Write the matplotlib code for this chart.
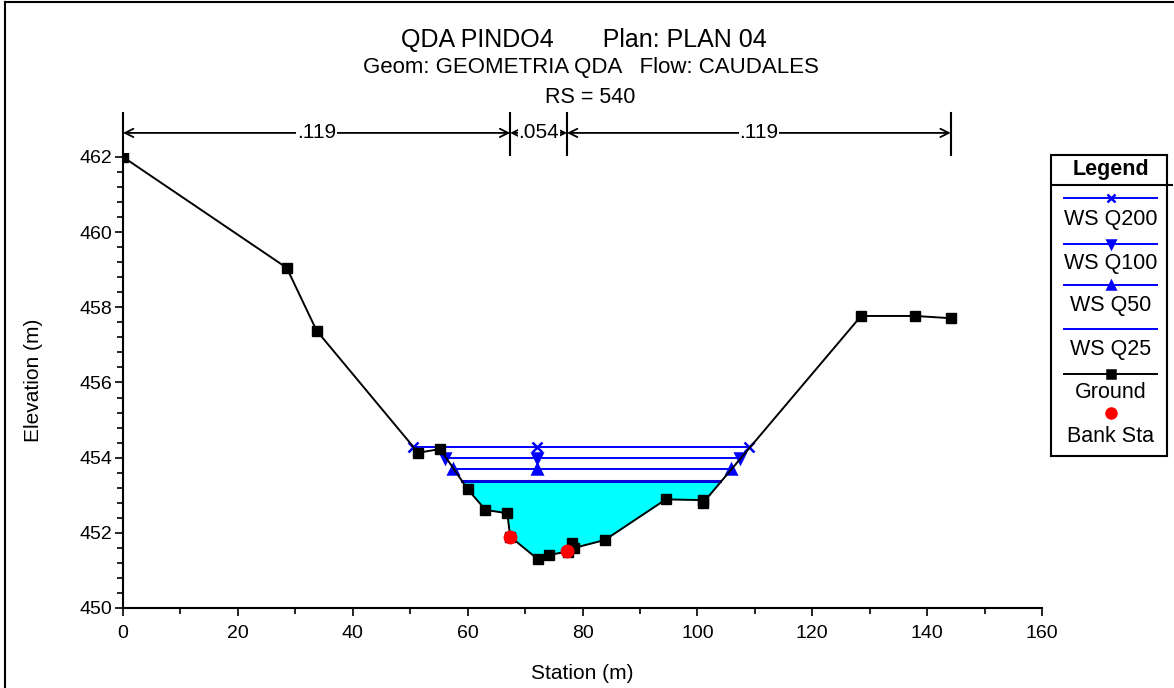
import matplotlib
matplotlib.use("Agg")
import matplotlib.pyplot as plt
from matplotlib.ticker import MultipleLocator
import numpy as np

plt.rcParams['font.family'] = ['Liberation Sans', 'DejaVu Sans']

# ground profile (station m, elevation m)
station = [0, 28.5, 33.7, 51.4, 55.2, 60.0, 63.1, 66.9, 67.4, 72.2, 74.1, 77.4,
           78.1, 78.6, 83.9, 94.5, 100.9, 101.0, 128.5, 137.9, 144.1]
ground = [462.0, 459.05, 457.38, 454.13, 454.23, 453.16, 452.61, 452.52, 451.90,
          451.30, 451.41, 451.50, 451.72, 451.60, 451.81, 452.89, 452.87, 452.80,
          457.77, 457.77, 457.71]

# bank stations
bank_sta = [67.4, 77.3]
bank_elev = [451.90, 451.52]

# water surfaces: name, elevation, left / mid / right station
ws_names = ['WS Q200', 'WS Q100', 'WS Q50', 'WS Q25']
ws_elev = [454.29, 453.98, 453.69, 453.38]
ws_left = [50.5, 56.1, 57.5, 59.1]
ws_right = [108.9, 107.4, 105.8, 104.0]
ws_mid = 72.0
ws_marker = ['x', 'v', '^', None]

# Manning n values between stations
n_edges = [0, 67.4, 77.3, 144.1]
n_vals = ['.119', '.054', '.119']

fig = plt.figure(figsize=(11.74, 6.88), dpi=100)
ax = fig.add_axes([0.1048, 0.1163, 0.7828, 0.661])

# fill below lowest water surface
st_arr = np.array(station)
gr_arr = np.array(ground)
ax.fill_between(st_arr, gr_arr, ws_elev[3], where=gr_arr <= ws_elev[3],
                interpolate=True, color='#00ffff', lw=0, zorder=1)

for i in range(len(ws_names)):
    xs = [ws_left[i], ws_mid, ws_right[i]]
    ys = [ws_elev[i]] * 3
    if ws_marker[i] is None:
        ax.plot([ws_left[i], ws_right[i]], ys[:2], color='#0000dd', lw=2.2, zorder=2)
    else:
        ax.plot(xs, ys, color='blue', lw=1.4, marker=ws_marker[i], ms=6.5,
                mew=1.8, zorder=3)

ax.plot(station, ground, color='black', lw=1.4, marker='s', ms=6.5, zorder=4)
ax.plot(bank_sta, bank_elev, 'o', color='red', ms=9, zorder=5, lw=0)

ax.set_xlim(0, 160)
ax.set_ylim(450, 462.1)
ax.xaxis.set_major_locator(MultipleLocator(20))
ax.xaxis.set_minor_locator(MultipleLocator(10))
ax.yaxis.set_major_locator(MultipleLocator(2))
ax.yaxis.set_minor_locator(MultipleLocator(0.4))
ax.tick_params(which='major', length=6, width=1.2, labelsize=14, direction='out')
ax.tick_params(axis='y', which='major', pad=2)
ax.tick_params(axis='x', which='major', pad=6)
ax.tick_params(which='minor', length=4, width=1.2, direction='out')
ax.spines['top'].set_visible(False)
ax.spines['right'].set_visible(False)
ax.spines['left'].set_linewidth(1.5)
ax.spines['bottom'].set_linewidth(1.5)
ax.set_xlabel('Station (m)', fontsize=15, labelpad=16)
ax.set_ylabel('Elevation (m)', fontsize=15, labelpad=26)

# n value dimension lines
y_arrow = 462.64
for x in n_edges:
    ax.plot([x, x], [462.05, 463.17], color='black', lw=1.5, clip_on=False)
for i in range(len(n_vals)):
    a, b = n_edges[i], n_edges[i + 1]
    ax.annotate('', xy=(a, y_arrow), xytext=(b, y_arrow),
                arrowprops=dict(arrowstyle='<->,head_length=0.6,head_width=0.3',
                                color='black', lw=1.3, shrinkA=0, shrinkB=0),
                annotation_clip=False)
    ax.text((a + b) / 2, y_arrow, n_vals[i], ha='center', va='center', fontsize=15,
            bbox=dict(facecolor='white', edgecolor='none', pad=0.5), clip_on=False)

# titles
fig.text(0.497, 0.942, 'QDA PINDO4       Plan: PLAN 04', ha='center', va='center', fontsize=18)
fig.text(0.503, 0.902, 'Geom: GEOMETRIA QDA   Flow: CAUDALES', ha='center', va='center', fontsize=16)
fig.text(0.503, 0.859, 'RS = 540', ha='center', va='center', fontsize=15.5)

# frame lines
fig.add_artist(plt.Line2D([5 / 1174, 5 / 1174], [0, 1 - 2 / 688], color='black', lw=1.5))
fig.add_artist(plt.Line2D([5 / 1174, 1], [1 - 2 / 688, 1 - 2 / 688], color='black', lw=1.5))

# legend box
lg = fig.add_axes([1051 / 1174, 1 - 456 / 688, 116 / 1174, 301 / 688])
lg.set_xlim(1051, 1167)
lg.set_ylim(456, 155)
lg.set_xticks([])
lg.set_yticks([])
for s in lg.spines.values():
    s.set_linewidth(1.5)
lg.text(1111, 170, 'Legend', ha='center', va='center', fontsize=15.5, fontweight='bold')
lg.plot([1051, 1172], [185, 185], color='black', lw=1.5, clip_on=False)

leg_line_y = [198, 244, 285, 329, 374]
leg_text_y = [220, 263, 305, 350, 393]
leg_labels = ws_names + ['Ground']
leg_colors = ['blue', 'blue', 'blue', 'blue', 'black']
leg_markers = ws_marker + ['s']
for i in range(5):
    lg.plot([1064, 1157], [leg_line_y[i]] * 2, color=leg_colors[i], lw=1.4)
    if leg_markers[i] is not None:
        lg.plot([1110.5], [leg_line_y[i]], marker=leg_markers[i], color=leg_colors[i],
                ms=5.5, mew=1.8)
    lg.text(1110.5, leg_text_y[i], leg_labels[i], ha='center', va='center', fontsize=15.5)
lg.plot([1110.5], [413], 'o', color='red', ms=8)
lg.text(1110.5, 436, 'Bank Sta', ha='center', va='center', fontsize=15.5)

fig.savefig('out.png', dpi=100)
